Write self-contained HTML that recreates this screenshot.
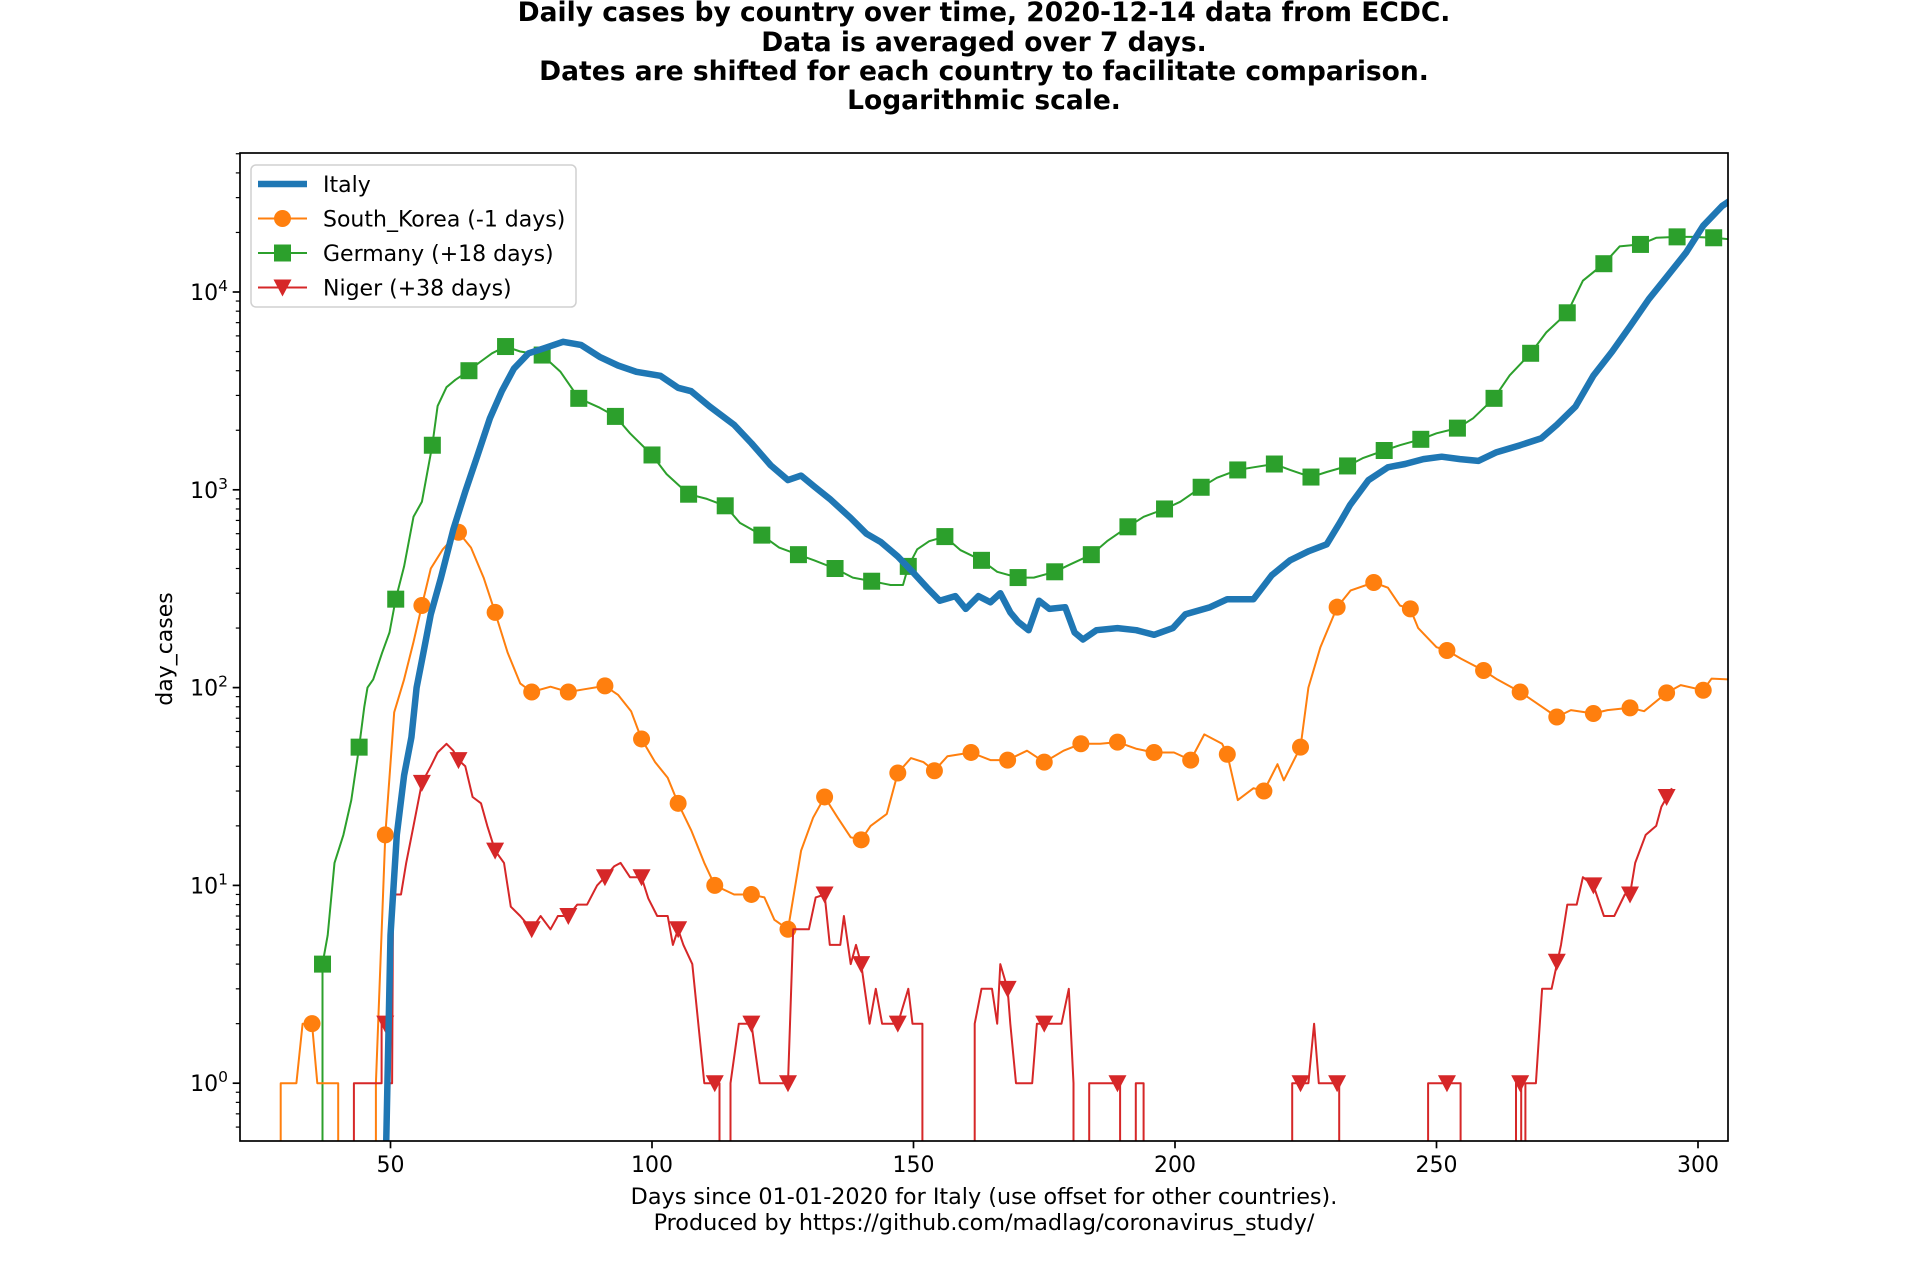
<!DOCTYPE html>
<html><head><meta charset="utf-8"><title>Daily cases by country</title>
<style>
html,body{margin:0;padding:0;background:#fff;}
svg{display:block;}
text{font-family:"DejaVu Sans","Liberation Sans",sans-serif;fill:#000;}
</style></head>
<body>
<svg id="chart" width="1920" height="1280" viewBox="0 0 1920 1280" xmlns="http://www.w3.org/2000/svg">
  <defs><clipPath id="plotclip"><rect x="240" y="153" width="1488" height="988"/></clipPath></defs>
  <g font-weight="bold" font-size="26.5" text-anchor="middle">
    <text x="984" y="21">Daily cases by country over time, 2020-12-14 data from ECDC.</text>
    <text x="984" y="51">Data is averaged over 7 days.</text>
    <text x="984" y="80">Dates are shifted for each country to facilitate comparison.</text>
    <text x="984" y="109">Logarithmic scale.</text>
  </g>
  <g id="xticks"></g>
  <g id="yticks"></g>
  <g id="series" clip-path="url(#plotclip)"></g>
  <rect x="240" y="153" width="1488" height="988" fill="none" stroke="#000" stroke-width="1.7"/>
  <text font-size="22" text-anchor="middle" transform="translate(172,649) rotate(-90)">day_cases</text>
  <g font-size="22.3" text-anchor="middle">
    <text x="984" y="1204">Days since 01-01-2020 for Italy (use offset for other countries).</text>
    <text x="984" y="1230">Produced by https://github.com/madlag/coronavirus_study/</text>
  </g>
  <g id="legend">
    <rect x="251" y="165" width="325" height="142" rx="5" fill="#fff" fill-opacity="0.8" stroke="#d0d0d0" stroke-width="1.5"/>
  </g>
</svg>
<script>
// ---- data ----
const xTicks = [50, 100, 150, 200, 250, 300];
const yTickExps = [0, 1, 2, 3, 4];

const italyDays = [49,50,51.2,52.6,54,55,56.3,57.7,59.6,62,64.3,66.6,69,71.3,73.6,76.4,79.4,83,86.4,90,93.5,97,101.6,105,107.5,111,115.7,119,122.7,126,128.5,131,134,138,141,143.7,147,150,152.6,155,158,160,162.4,164.7,166.6,168.5,170,172,174,176,179,180.8,182.4,185,189,192.6,196,199.6,202,206.7,210,215,218.5,222,225.6,229,231.5,233.5,237,240.7,244,247.5,251,254.5,258,261.5,266,270,273,276.6,280,283.6,287,290.6,294,297.7,301,304.6,306];
const italyValues = [0.3,5.6,18,36,56,100,150,235,355,630,980,1480,2300,3160,4100,4900,5200,5600,5400,4700,4250,3950,3770,3280,3150,2640,2130,1720,1330,1120,1180,1040,900,720,600,545,460,380,320,275,290,250,290,270,300,240,215,195,275,250,255,190,175,195,200,195,185,200,235,255,280,280,370,440,490,530,680,840,1120,1300,1350,1430,1470,1430,1400,1550,1680,1820,2130,2640,3780,5000,6700,9200,11900,15800,21600,27200,28800];

const koreaDays = [29,29,32,33.2,35,36,40,40,47.2,47.2,49,50.7,52.6,54.4,56,57.7,60,63,65.4,67.8,70,72.4,74.8,77,80.6,84,87,91,93.5,96,98,100.6,103,105,107.5,110,112,115.7,119,121.5,123.4,126,128.5,130.8,133,135.5,138,140,141.8,144.9,147,149.5,151.9,154,156.5,161,164.7,168,171.7,175,178.7,182,185.7,189,192.7,196,199.8,203,205.6,209,210,212,215,217,219.6,220.8,224,225.5,227.8,231,233.6,238,240.7,243,245,246.5,250,252,254.7,259,261.6,266,268.7,273,275.7,280,282.7,287,289.7,294,296.7,301,302.6,306];
const koreaValues = [0,1,1,2,2,1,1,0,0,1,18,75,110,170,260,400,500,610,510,360,240,150,105,95,101,95,98,102,92,76,55,42,35,26,19,13,10,9,9,8.7,6.7,6,15,22,28,22,17.5,17,20,23,37,44,42,38,45,47,43,43,48,42,48,52,52,53,49,47,47,43,58,52,46,27,31,30,41,34,50,100,160,255,310,340,320,260,250,200,160,154,140,122,110,95,85,71,77,74,77,79,76,94,103,97,111,110];
const koreaMarkerDays = [35,49,56,63,70,77,84,91,98,105,112,119,126,133,140,147,154,161,168,175,182,189,196,203,210,217,224,231,238,245,252,259,266,273,280,287,294,301];

const germanyDays = [37,37,38,39.3,41,42.5,44,45,45.6,46.7,48.4,49.8,51,52.6,54.4,56,58,59,60.7,62.4,65,67,69.4,72,74.8,79,82.5,86,90,93,95.8,100,102.8,107,110.5,114,116.8,121,124.3,128,131,135,138.4,142,145.6,148,149,150.7,153,156,159,163,166,170,173,177,180,184,187,191,194,198,201,205,208,212,215,219,222,226,229,233,236,240,243,247,250,254,257,261,264,268,271,275,278,282,285,289,292,296,299,303,306];
const germanyValues = [0,4,5.6,13,18,27,50,80,100,110,150,190,280,410,730,870,1680,2650,3300,3600,4000,4400,4900,5300,5000,4800,3950,2900,2600,2350,1930,1500,1200,950,900,830,680,590,510,470,440,400,360,345,330,330,410,500,550,580,495,440,385,360,360,385,420,470,550,650,730,800,870,1030,1150,1260,1300,1350,1260,1160,1230,1320,1450,1580,1680,1800,1930,2050,2300,2900,3790,4900,6250,7850,11400,13900,17000,17400,18800,19000,19000,18800,18500];
const germanyMarkerDays = [37,44,51,58,65,72,79,86,93,100,107,114,121,128,135,142,149,156,163,170,177,184,191,198,205,212,219,226,233,240,247,254,261,268,275,282,289,296,303];

const nigerDays = [43,43,48.3,48.3,49.6,49.6,50.3,50.5,52,53,54.4,56,57.7,59,60.7,62,63,64.3,65.7,67.3,68.5,70,71.7,73,74.8,77,78.7,80.6,82,84,85.7,87.6,89.5,91,92.8,94,95.8,98,99.3,101,103,104,105,106,107.7,110,112,112.9,112.9,115,115,116.6,119,120.6,126,127,130,131.3,133,134,136,136.7,138,139,140,141.6,142.8,144,147,149,149.8,151.7,151.7,161.7,161.7,163,165,166,166.6,168,168.5,169.6,172.7,173.6,178.3,179.7,180.6,180.6,183.6,183.6,189.5,189.5,192.5,192.5,194,194,222.4,222.4,225.5,226.6,227.5,231.4,231.4,248.4,248.4,254.6,254.6,265.2,265.2,266.2,266.2,267,267,269,270.2,272,273.8,275,276.8,278,280,282,284,286,287,288,290,292,293,295];
const nigerValues = [0,1,1,2,2,1,1,9,9,13,20,33,40,47,52,48,43,40,28,26,20,15,13,7.8,7,6,7,6,7,7,8,8,10,11,12.5,13,11,11,8.6,7,7,5,6,5,4,1,1,1,0,0,1,2,2,1,1,6,6,8.7,9,5,5,7,4,5,4,2,3,2,2,3,2,2,0,0,2,3,3,2,4,3,2,1,1,2,2,3,1,0,0,1,1,0,0,1,1,0,0,1,1,2,1,1,0,0,1,1,0,0,1,1,0,0,1,1,3,3,5,8,8,11,10,7,7,9,9,13,18,20,25,31];
const nigerMarkerDays = [49,56,63,70,77,84,91,98,105,112,119,126,133,140,147,168,175,189,224,231,252,266,273,280,287,294];

// ---- scales ----
const AX_L = 240, AX_R = 1728, AX_T = 153, AX_B = 1141;
const PX_PER_DAY = 5.23, X100 = 652;
const Y_E4 = 292, DECADE = 197.8;
function xScale(d){ return X100 + (d - 100) * PX_PER_DAY; }
function yScale(v){ if (v <= 0) return AX_B + 40; return Y_E4 + (4 - Math.log10(v)) * DECADE; }
function valueAt(days, vals, d){
  let i = -1;
  for (let k = 0; k < days.length; k++) if (days[k] <= d) i = k;
  if (i < 0) return vals[0];
  if (days[i] === d || i === days.length - 1) return vals[i];
  const t = (d - days[i]) / (days[i+1] - days[i]);
  return vals[i] + t * (vals[i+1] - vals[i]);
}
const NS = "http://www.w3.org/2000/svg";
function mk(tag, attrs, parent){
  const e = document.createElementNS(NS, tag);
  for (const k in attrs) e.setAttribute(k, attrs[k]);
  parent.appendChild(e); return e;
}

// ---- x axis ----
const xg = document.getElementById("xticks");
xTicks.forEach(t => {
  const x = xScale(t);
  const ln = mk("line", {x1:x, x2:x, y1:AX_B, y2:AX_B+7.3, stroke:"#000", "stroke-width":1.7}, xg);
  
  
  const tx = mk("text", {x:x, y:AX_B+31, "font-size":22, "text-anchor":"middle"}, xg);
  
  
  tx.textContent = t;
});

// ---- y axis ----
const yg = document.getElementById("yticks");
yTickExps.forEach(e => {
  const y = yScale(Math.pow(10, e));
  const ln = mk("line", {x1:AX_L-7.3, x2:AX_L, y1:y, y2:y, stroke:"#000", "stroke-width":1.7}, yg);
  
  
  const tx = mk("text", {x:AX_L-12, y:y+8, "font-size":22, "text-anchor":"end"}, yg);
  
  
  tx.appendChild(document.createTextNode("10"));
  const sup = mk("tspan", {dy:-9, "font-size":15.5}, tx);
  sup.textContent = e;
});
for (let e = -1; e <= 4; e++) {
  for (let m = 2; m <= 9; m++) {
    const y = yScale(m * Math.pow(10, e));
    if (y < AX_T || y > AX_B) continue;
    const ln = mk("line", {x1:AX_L-4.2, x2:AX_L, y1:y, y2:y, stroke:"#000", "stroke-width":1.2}, yg);
    
    
  }
}

// ---- series ----
const sg = document.getElementById("series");
function pathFor(days, vals){
  return days.map((d,i) => (i ? "L" : "M") + xScale(d).toFixed(1) + "," + yScale(vals[i]).toFixed(1)).join(" ");
}
function drawMarker(parent, kind, x, y, color){
  let m;
  if (kind === "circle") m = mk("circle", {cx:x, cy:y, r:8.5, fill:color}, parent);
  else if (kind === "square") m = mk("rect", {x:x-8.5, y:y-8.5, width:17, height:17, fill:color}, parent);
  else m = mk("polygon", {points:`${x-9},${y-8} ${x+9},${y-8} ${x},${y+9}`, fill:color}, parent);
  return m;
}
function drawSeries(name, days, vals, color, width, markerDays, kind){
  const g = mk("g", {}, sg);
  
  
  const p = mk("path", {d:pathFor(days, vals), fill:"none", stroke:color, "stroke-width":width, "stroke-linejoin":"round"}, g);
  
  
  (markerDays || []).forEach(d => {
    const v = valueAt(days, vals, d);
    if (v <= 0) return;
    const m = drawMarker(g, kind, xScale(d), yScale(v), color);
    
    
  });
}
drawSeries("germany", germanyDays, germanyValues, "#2ca02c", 2, germanyMarkerDays, "square");
drawSeries("south-korea", koreaDays, koreaValues, "#ff7f0e", 2, koreaMarkerDays, "circle");
drawSeries("niger", nigerDays, nigerValues, "#d62728", 2, nigerMarkerDays, "triangle");
drawSeries("italy", italyDays, italyValues, "#1f77b4", 6.5, [], null);

// ---- legend ----
const lg = document.getElementById("legend");
const legendNames = ["Italy", "South_Korea (-1 days)", "Germany (+18 days)", "Niger (+38 days)"];
const legendColors = ["#1f77b4", "#ff7f0e", "#2ca02c", "#d62728"];
const legendKinds = [null, "circle", "square", "triangle"];
legendNames.forEach((n, i) => {
  const y = 184 + i * 34.5;
  const g = mk("g", {}, lg);
  
  
  mk("line", {x1:258, x2:307, y1:y, y2:y, stroke:legendColors[i], "stroke-width": i === 0 ? 6.5 : 2}, g);
  if (legendKinds[i]) drawMarker(g, legendKinds[i], 282.5, y, legendColors[i]);
  const t = mk("text", {x:323, y:y+8, "font-size":22}, g);
  t.textContent = n;
});
</script>
</body></html>
